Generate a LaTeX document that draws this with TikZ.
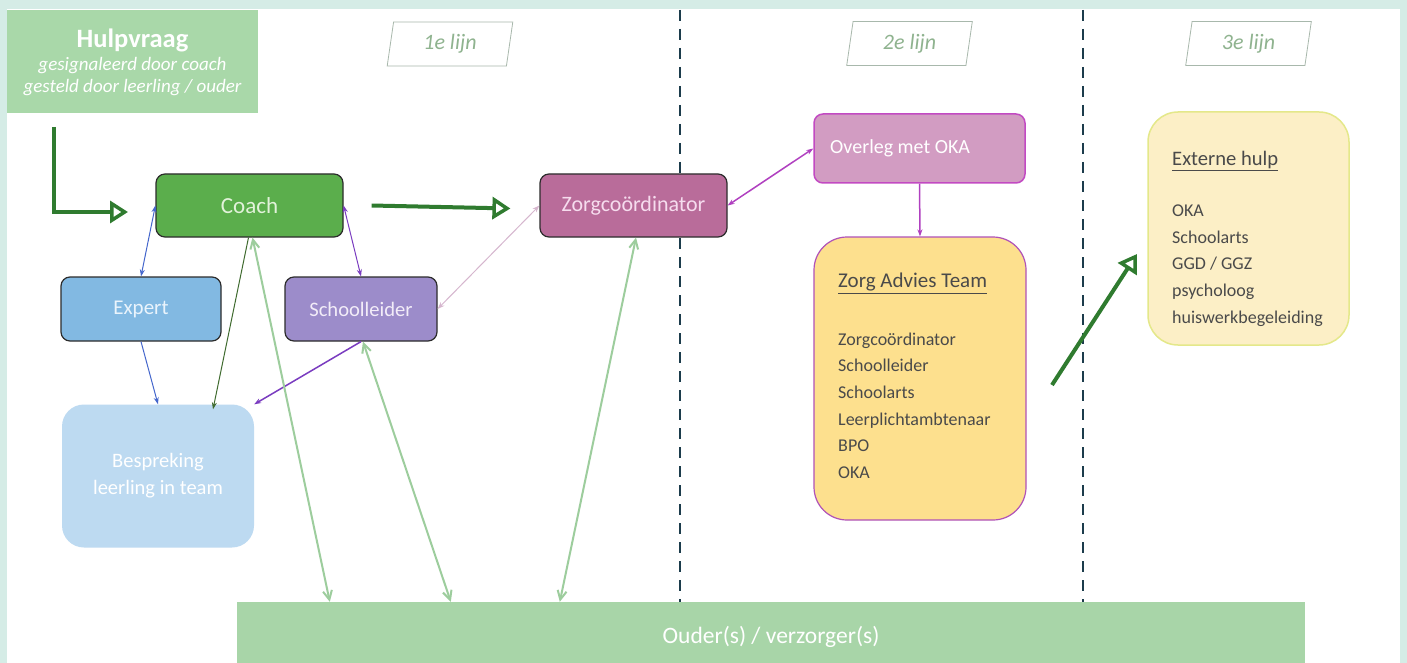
\documentclass[tikz,border=0pt]{standalone}
\usepackage{fontspec}
\setmainfont{Carlito}
\usetikzlibrary{arrows.meta,shapes.geometric}
\definecolor{mint}{HTML}{D5ECE6}
\definecolor{hulpfill}{HTML}{A9D8A9}
\definecolor{coachfill}{HTML}{5BAE4C}
\definecolor{coachtext}{HTML}{E2F2DA}
\definecolor{expertfill}{HTML}{82B9E2}
\definecolor{experttext}{HTML}{EAF4FC}
\definecolor{schoolfill}{HTML}{9C8CCA}
\definecolor{schooltext}{HTML}{F2ECF8}
\definecolor{zorgfill}{HTML}{B96C9A}
\definecolor{zorgtext}{HTML}{F6DCEE}
\definecolor{overlegfill}{HTML}{D29CC2}
\definecolor{overlegborder}{HTML}{C24AC2}
\definecolor{zatfill}{HTML}{FDE08E}
\definecolor{zatborder}{HTML}{B052B8}
\definecolor{extfill}{HTML}{FCEFC6}
\definecolor{extborder}{HTML}{E4E88A}
\definecolor{bespfill}{HTML}{BDDAF1}
\definecolor{oudersfill}{HTML}{A8D5A8}
\definecolor{darktext}{HTML}{4A4A4A}
\definecolor{boxborder}{HTML}{2C2C2C}
\definecolor{thickgreen}{HTML}{2F7B2F}
\definecolor{dashcol}{HTML}{1C3C4C}
\definecolor{labtext}{HTML}{8FB38F}
\definecolor{labborder}{HTML}{A8B8AC}
\definecolor{bluearr}{HTML}{4466CC}
\definecolor{purplearr}{HTML}{7A3CC0}
\definecolor{greenarr}{HTML}{3F6B2F}
\definecolor{pinkarr}{HTML}{D6B6CE}
\definecolor{okaarr}{HTML}{B040C0}
\definecolor{lightgreen}{HTML}{9DCD9D}
\begin{document}
\begin{tikzpicture}[x=1pt,y=-1pt,
  box/.style={draw=boxborder, line width=1.2pt, rounded corners=9pt, inner sep=0pt, font=\fontsize{21}{25}\selectfont},
  lab/.style={draw=labborder, line width=0.8pt, trapezium, trapezium left angle=81, trapezium right angle=99, trapezium stretches=true, minimum width=126pt, minimum height=44pt, inner sep=0pt, text=labtext, font=\fontsize{22}{26}\selectfont\itshape},
  bigarrow/.style={draw=thickgreen, line width=4pt, -{Triangle[open, length=18pt, width=22pt, line width=3.5pt]}},
  thinarrow/.style={line width=1pt, -{Stealth[length=7pt, width=5pt]}},
  thinboth/.style={line width=1pt, {Stealth[length=7pt, width=5pt]}-{Stealth[length=7pt, width=5pt]}},
  parentarrow/.style={draw=lightgreen, line width=2pt, {Straight Barb[length=9pt, width=9pt]}-{Straight Barb[length=9pt, width=9pt]}},
  dashline/.style={draw=dashcol, line width=2.2pt, dash pattern=on 11pt off 8pt},
  listtext/.style={align=left, text=darktext, inner sep=0pt, font=\fontsize{18}{26.6}\selectfont}
]
\useasboundingbox (0,0) rectangle (1407,663);
\fill[mint] (0,0) rectangle (1407,663);
\fill[white] (7,9) rectangle (1400,663);

% column separators
\draw[dashline] (680,10) -- (680,602);
\draw[dashline] (1083,10) -- (1083,602);

% column labels
\node[lab] (lijn1) at (450,44) {1e lijn};
\node[lab] (lijn2) at (909.5,43.5) {2e lijn};
\node[lab] (lijn3) at (1248.5,43.5) {3e lijn};

% Hulpvraag
\node[fill=hulpfill, minimum width=251pt, minimum height=103pt, inner sep=0pt] (hulp) at (132.5,61.5) {};
\node[align=center, text=white, inner sep=0pt, font=\fontsize{19}{22}\selectfont] (hulptext) at (132.5,62) {{\fontsize{26.5}{26}\selectfont\bfseries Hulpvraag}\\[1pt]{\itshape gesignaleerd door coach}\\{\itshape gesteld door leerling / ouder}};

% boxes
\node[box, fill=coachfill, text=coachtext, minimum width=187pt, minimum height=63pt, font=\fontsize{23}{27}\selectfont] (coach) at (249.5,205.5) {Coach};
\node[box, fill=expertfill, text=experttext, minimum width=160pt, minimum height=64pt] (expert) at (141,309) {Expert};
\node[box, fill=schoolfill, text=schooltext, minimum width=152pt, minimum height=64pt, font=\fontsize{20.6}{25}\selectfont] (school) at (361,309) {Schoolleider};
\node[box, fill=zorgfill, text=zorgtext, minimum width=187pt, minimum height=63pt, font=\fontsize{22}{26}\selectfont] (zorg) at (633.5,205.5) {Zorgcoördinator};
\node[box, draw=overlegborder, line width=1.5pt, fill=overlegfill, minimum width=211pt, minimum height=69pt] (overleg) at (919.5,148.5) {};
\node[anchor=west, text=white, inner sep=0pt, font=\fontsize{20}{24}\selectfont] (overlegtext) at (830,148.5) {Overleg met OKA};
\node[draw=none, fill=bespfill, rounded corners=22pt, minimum width=192pt, minimum height=143pt, inner sep=0pt, align=center, text=white, font=\fontsize{20.5}{27}\selectfont] (besp) at (158,476) {Bespreking\\leerling in team};
\node[draw=zatborder, line width=1.2pt, fill=zatfill, rounded corners=33pt, minimum width=212pt, minimum height=283pt, inner sep=0pt] (zat) at (920,378.5) {};
\node[listtext, anchor=north west] (zattext) at (838,273) {{\fontsize{21}{26.6}\selectfont\underline{Zorg Advies Team}}\\[31pt]Zorgcoördinator\\Schoolleider\\Schoolarts\\Leerplichtambtenaar\\BPO\\OKA};
\node[draw=extborder, line width=1.5pt, fill=extfill, rounded corners=30pt, minimum width=201pt, minimum height=233pt, inner sep=0pt] (ext) at (1248.5,228.5) {};
\node[listtext, anchor=north west] (exttext) at (1172,150.5) {{\fontsize{20.6}{26.6}\selectfont\underline{Externe hulp}}\\[25pt]OKA\\Schoolarts\\GGD / GGZ\\psycholoog\\huiswerkbegeleiding};
\node[fill=oudersfill, minimum width=1068pt, minimum height=70pt, inner sep=0pt, text=white, font=\fontsize{23.5}{27}\selectfont] (ouders) at (771,637) {Ouder(s) / verzorger(s)};

% thick green arrows
\coordinate (h1) at (54,127);
\coordinate (h2) at (128,212);
\draw[bigarrow] (h1) |- (h2);
\draw[bigarrow] ([xshift=28pt]coach.east) -- ([xshift=-29pt,yshift=-3pt]zorg.west);
\coordinate (e1) at (1052,385);
\coordinate (e2) at (1137,254);
\draw[bigarrow] (e1) -- (e2);

% thin arrows
\draw[thinboth, draw=bluearr] (coach.west) -- (expert.north);
\draw[thinboth, draw=purplearr] (coach.east) -- (school.north);
\draw[thinarrow, draw=bluearr] (expert.south) -- (besp.north);
\draw[thinarrow, draw=greenarr] ([xshift=-1pt]coach.south) -- ([xshift=55pt,yshift=-5pt]besp.north);
\draw[thinarrow, draw=purplearr, line width=1.5pt] (school.south) -- (besp.north east);
\draw[thinboth, draw=pinkarr] (zorg.west) -- (school.east);
\draw[thinboth, draw=okaarr, line width=1.5pt] (zorg.east) -- (overleg.west);
\draw[thinarrow, draw=okaarr, line width=1.5pt] (overleg.south) -- (zat.north);

% parent arrows
\draw[parentarrow] ([xshift=3pt]coach.south) -- ([xshift=93pt]ouders.north west);
\draw[parentarrow] ([xshift=2pt]school.south) -- ([xshift=214pt]ouders.north west);
\draw[parentarrow] ([xshift=2.5pt]zorg.south) -- ([xshift=323pt]ouders.north west);
\end{tikzpicture}
\end{document}
